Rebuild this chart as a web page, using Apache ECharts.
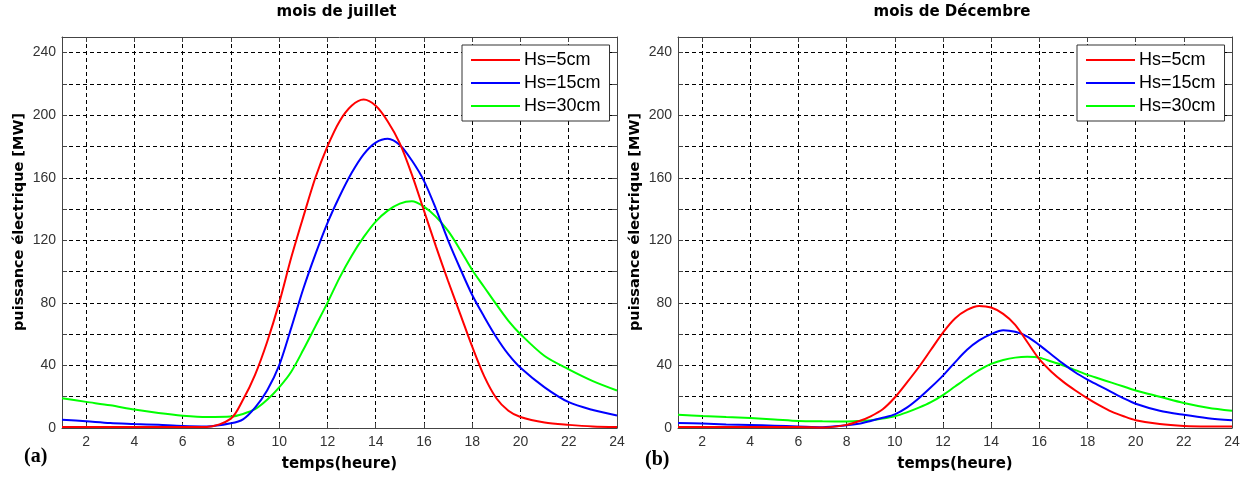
<!DOCTYPE html>
<html>
<head>
<meta charset="utf-8">
<script src="https://cdn.jsdelivr.net/npm/echarts@6/dist/echarts.min.js"></script>
<style>
html,body{margin:0;padding:0;background:#fff;}
#chart{width:1244px;height:477px;}
</style>
</head>
<body>
<div id="chart"></div>
<script>
// ---- data ----
const hours = [1,2,3,4,5,6,7,8,8.5,9,9.5,10,10.5,11,11.5,12,12.5,13,13.5,14,14.5,15,15.5,16,16.5,17,17.5,18,18.5,19,19.5,20,21,22,23,24];
const seriesNames = ['Hs=5cm','Hs=15cm','Hs=30cm'];
const julRed   = [0.6,0.6,0.6,0.6,0.6,0.6,0.7,6,18,34,55,80,109,135,160,180,196,206,210,206,196,182,162,139,116,94,73,52,33,19,11,7,3.5,2,1,0.7];
const julBlue  = [5.3,4.3,3.2,2.6,2,1.3,1,3,5.5,13,24,40,64,89,111,131,148,163,175,182.5,185,181,171,158,140,120,102,85,71,58,47,38.5,26,16.5,11.5,8];
const julGreen = [19,16.7,14.5,11.8,9.6,7.9,7,7.3,9,12,18,26,36,50,65,80,96,110,122,132,139,143.5,145,141.5,135,126,114,101,90,79,68.5,60,46,37.5,30,24];
const decRed   = [0.6,0.6,0.6,0.6,0.6,0.6,0.3,2,4.3,7.5,12,19.5,29,39,50,61,70,75.5,78,77,73,66,55,44,36,29.5,24,19,14.5,10.5,7.5,5,2.5,1.3,1,1];
const decBlue  = [3.2,2.8,2.3,1.9,1.5,1,0.5,1.7,2.7,4.5,6.5,8.7,13,19,26,33.5,42,50,56,60,62.5,61.5,58.5,53,47,41,35.5,31,27,23,19,15.5,11,8.4,6.3,5];
const decGreen = [8.5,7.7,7,6.4,5.5,4.5,4.3,4.2,4.5,5,6,7.5,10,13,16.5,21,26.5,32,37,41,43.5,45,45.5,45,42.5,40,37,34,31.5,29,26.5,24,20,16,13,11];
const xTicks = [2,4,6,8,10,12,14,16,18,20,22,24];
const titles = ['mois de juillet','mois de Décembre'];
const panelTags = ['(a)','(b)'];
const yName = 'puissance électrique [MW]';
const xName = 'temps(heure)';

// ---- chart ----
const colors = ['#ff0000','#0000ff','#00ff00'];
const axisColor = '#444';
const labelFont = 'Liberation Sans';
const boldFont = 'DejaVu Sans';

const grids = [
  {left:62, right:627, top:37, bottom:47},
  {left:678, right:12, top:37, bottom:47}
];

const xAxes = [], yAxes = [];
grids.forEach((g, gi) => {
  xAxes.push({
    type:'value', gridIndex:gi, min:1, max:24, position:'bottom',
    axisLine:{show:true, onZero:false, lineStyle:{color:axisColor, width:1}},
    axisTick:{show:true, inside:true, length:5, customValues:xTicks, lineStyle:{color:axisColor}},
    axisLabel:{customValues:xTicks, fontSize:14, color:'#333', fontFamily:labelFont, margin:7},
    splitLine:{show:true, lineStyle:{type:[4,3], color:'#000', width:1}},
    name:xName, nameLocation:'middle', nameGap:29,
    nameTextStyle:{fontFamily:boldFont, fontWeight:'bold', fontSize:15, color:'#000'}
  });
  xAxes.push({
    type:'value', gridIndex:gi, min:1, max:24, position:'top',
    axisLine:{show:true, onZero:false, lineStyle:{color:axisColor, width:1}},
    axisTick:{show:true, inside:true, length:5, customValues:xTicks, lineStyle:{color:axisColor}},
    axisLabel:{show:false}, splitLine:{show:false}
  });
  yAxes.push({
    type:'value', gridIndex:gi, min:0, max:250, interval:20, position:'left',
    axisLine:{show:true, onZero:false, lineStyle:{color:axisColor, width:1}},
    axisTick:{show:true, inside:true, length:5, lineStyle:{color:axisColor}},
    axisLabel:{fontSize:14, color:'#333', fontFamily:labelFont, margin:6,
      formatter: v => (v % 40 === 0 && v <= 240) ? String(v) : ''},
    splitLine:{show:true, lineStyle:{type:[4,3], color:'#000', width:1}}
  });
  yAxes.push({
    type:'value', gridIndex:gi, min:0, max:250, interval:20, position:'right',
    axisLine:{show:true, onZero:false, lineStyle:{color:axisColor, width:1}},
    axisTick:{show:true, inside:true, length:5, lineStyle:{color:axisColor}},
    axisLabel:{show:false}, splitLine:{show:false}
  });
});

const panels = [[julRed, julBlue, julGreen],[decRed, decBlue, decGreen]];
const series = [];
panels.forEach((arrs, gi) => {
  arrs.forEach((arr, si) => {
    series.push({
      type:'line', name:seriesNames[si], xAxisIndex:gi*2, yAxisIndex:gi*2,
      data: hours.map((h, i) => [h, arr[i]]),
      smooth:0.3, showSymbol:false, symbol:'none',
      lineStyle:{color:colors[si], width:2}, itemStyle:{color:colors[si]},
      z: 3 + (2 - si)
    });
  });
});

const legendBase = {
  orient:'vertical', top:45, icon:'rect', itemWidth:49, itemHeight:2, itemGap:5,
  padding:[6,9,6,9], borderColor:'#333', borderWidth:1, backgroundColor:'#fff',
  textStyle:{fontSize:18, fontFamily:labelFont, color:'#000', lineHeight:18, padding:[0,0,0,-1]},
  data:seriesNames, selectedMode:false, z:10
};

const graphic = [];
grids.forEach((g, gi) => {
  const l = g.left, r = 1244 - g.right;
  graphic.push({type:'text', x:(l+r)/2 - 3, y:5, z:20,
    style:{text:titles[gi], font:'bold 15px "DejaVu Sans"', fill:'#000', textAlign:'center', textVerticalAlign:'top'}});
  graphic.push({type:'text', x:l - 43, y:222, rotation:Math.PI/2, z:20,
    style:{text:yName, font:'bold 14.5px "DejaVu Sans"', fill:'#000', textAlign:'center', textVerticalAlign:'middle'}});
});
graphic.push({type:'text', x:24, y:447, z:20, style:{text:panelTags[0], font:'bold 20px "Liberation Serif"', fill:'#000', textVerticalAlign:'top'}});
graphic.push({type:'text', x:645, y:450, z:20, style:{text:panelTags[1], font:'bold 20px "Liberation Serif"', fill:'#000', textVerticalAlign:'top'}});

const chart = echarts.init(document.getElementById('chart'), null, {renderer:'canvas'});
chart.setOption({
  animation:false,
  backgroundColor:'#fff',
  grid: grids,
  xAxis: xAxes,
  yAxis: yAxes,
  legend: [
    Object.assign({}, legendBase, {left:462}),
    Object.assign({}, legendBase, {left:1077})
  ],
  series: series,
  graphic: graphic
});
</script>
</body>
</html>
